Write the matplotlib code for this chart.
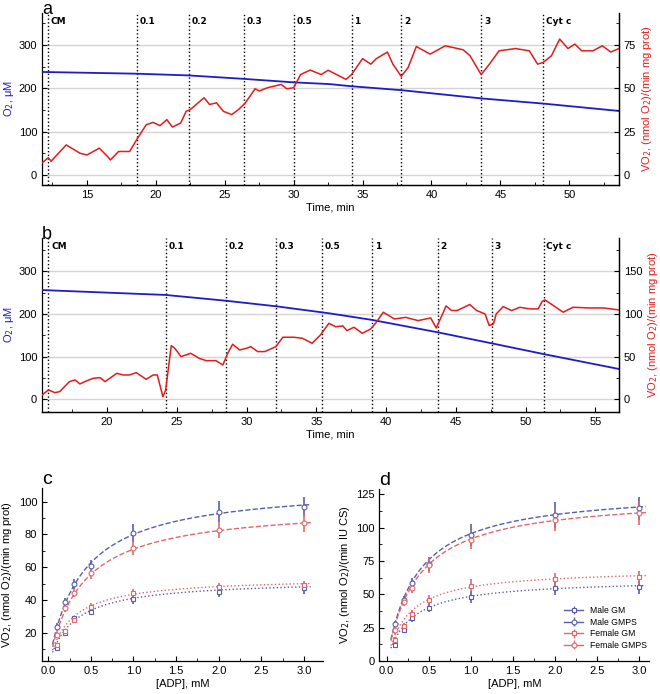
import matplotlib
matplotlib.use('Agg')
import matplotlib.pyplot as plt
import numpy as np
from matplotlib.ticker import MultipleLocator

params = {'font.family': ['Liberation Sans', 'DejaVu Sans'],
          'font.size': 8,
          'xtick.labelsize': 8,
          'ytick.labelsize': 8,
          'xtick.direction': 'in',
          'ytick.direction': 'in',
          'axes.linewidth': 0.9}
plt.rcParams.update(params)

blue = '#1c1ccc'
red = '#e31b1b'
pale_blue = '#5a5ea8'
pale_red = '#e3676a'

events = ['CM', '0.1', '0.2', '0.3', '0.5', '1', '2', '3', 'Cyt c']

# --- panel a: oxygraph trace ---
a_events = [12.17, 18.6, 22.4, 26.4, 30.0, 34.2, 37.8, 43.6, 48.1]
a_t_o2 = [11.74, 18.6, 22.4, 26.4, 30.0, 32.6, 34.2, 37.8, 43.6, 48.1, 53.6]
a_o2 = [238, 234, 230, 222, 214, 210, 205, 196, 177, 165, 148]
a_t_vo2 = [11.74, 12.2, 12.4, 13.5, 14.5, 15.0, 15.9, 16.5, 16.7, 17.3,
           18.1, 18.6, 19.3, 19.8, 20.3, 20.8, 21.2, 21.8, 22.2, 22.5,
           23.5, 23.9, 24.4, 24.9, 25.5, 26.0, 26.5, 27.2, 27.5, 28.1,
           29.1, 29.5, 30.0, 30.5, 31.2, 32.0, 32.5, 33.8, 34.2, 35.0,
           35.6, 36.0, 36.8, 37.2, 37.8, 38.3, 38.9, 39.9, 41.0, 42.3,
           42.8, 43.6, 44.2, 44.9, 46.1, 47.1, 47.7, 48.1, 48.7, 49.3,
           49.9, 50.4, 50.9, 51.7, 52.4, 53.0, 53.6]
a_vo2 = [7, 10, 8, 17.4, 12.6, 11.6, 15.5, 10.7, 8.7, 13.6,
         13.6, 20.3, 29, 30.4, 28.5, 32, 27.7, 30, 36.8, 37.8,
         44.6, 40.7, 41.7, 36.8, 34.9, 37.8, 41.7, 49.8, 48.5, 50.4,
         52.3, 49.8, 50.4, 58, 60.6, 58, 60.5, 55.2, 58, 67.2,
         64, 67.2, 71, 64, 57, 62, 74.2, 69.8, 74.6, 72.3,
         68.8, 58, 64, 71.7, 73, 71.7, 64, 65, 68.8, 78.5,
         73, 75.6, 71.7, 71.7, 74.6, 71, 73]

# --- panel b: oxygraph trace ---
b_events = [15.79, 24.2, 28.5, 32.1, 35.4, 39.0, 43.7, 47.6, 51.3]
b_t_o2 = [15.33, 24.2, 28.5, 32.1, 35.9, 39.0, 43.7, 47.6, 51.3, 56.7]
b_o2 = [256, 244.5, 231, 218, 201.6, 186, 157, 131, 106, 71]
b_t_vo2 = [15.33, 15.79, 16.26, 16.6, 17.3, 17.7, 18.05, 18.4, 19.0, 19.5,
           19.85, 20.7, 21.15, 21.6, 22.1, 22.8, 23.3, 23.6, 24.0, 24.2,
           24.6, 24.85, 25.3, 26.0, 26.6, 27.1, 27.8, 28.3, 28.65, 29.0,
           29.5, 30.0, 30.3, 30.8, 31.3, 32.1, 32.6, 33.4, 34.0, 34.7,
           35.3, 35.9, 36.4, 36.9, 37.2, 37.7, 38.3, 38.9, 39.3, 39.8,
           40.6, 41.4, 42.3, 43.2, 43.6, 44.1, 44.3, 44.7, 45.1, 46.0,
           46.5, 47.1, 47.4, 47.7, 47.9, 48.4, 49.0, 49.6, 50.3, 50.9,
           51.2, 51.4, 52.0, 52.7, 53.4, 54.6, 55.6, 56.7]
b_vo2 = [5, 11, 7.8, 9, 20.7, 22.7, 18, 20.7, 24.6, 25.4,
         20.7, 30.5, 28.5, 28.5, 31.2, 23.4, 28.5, 28.5, 3.1, 11,
         62.9, 59.8, 50, 53.9, 48, 45.3, 45.3, 40.2, 53.9, 64.5,
         57.8, 59.8, 61.7, 55.9, 55.9, 61.7, 72.7, 72.7, 71.5, 65.6,
         75.4, 89, 85, 86, 80.5, 84.4, 77.3, 82.4, 90.2, 102,
         94.1, 96, 92.2, 95.3, 83.6, 101.6, 109.4, 104, 104, 111,
         104, 100, 86.3, 88.3, 100, 108.6, 104, 107.8, 105.9, 105.9,
         114.8, 116.4, 109.8, 102, 107.8, 107, 107, 104.7]

# --- panels c, d: ADP kinetics ---
adp = [0.1, 0.2, 0.3, 0.5, 1.0, 2.0, 3.0]
series = ['Male GM', 'Male GMPS', 'Female GM', 'Female GMPS']

c_male_gm = [10.4, 19.6, 28.8, 32.8, 40.4, 45.0, 47.0]
c_male_gm_err = [1.5, 1.5, 1.5, 1.5, 3, 3, 3.5]
c_male_gmps = [23.7, 38.9, 49.7, 60.9, 80.7, 93.9, 97.0]
c_male_gmps_err = [2, 2, 3, 3.5, 5.5, 6.5, 6]
c_female_gm = [12.5, 21.0, 27.7, 35.9, 44.0, 47.7, 49.1]
c_female_gm_err = [1.5, 1.5, 2, 2.5, 2.5, 2.5, 2.5]
c_female_gmps = [18.6, 34.9, 44.0, 56.2, 71.5, 82.7, 86.8]
c_female_gmps_err = [2, 2, 2.5, 3.5, 4, 5, 5.5]
c_vmax = [52.5, 110.4, 54.0, 98.0]
c_km = [0.28, 0.38, 0.242, 0.38]

d_male_gm = [12, 23.25, 32, 39.5, 48.25, 54.5, 55.25]
d_male_gm_err = [2, 2, 2.5, 3, 4.5, 5, 5]
d_male_gmps = [27.75, 45.75, 58.25, 72.75, 94.5, 109.5, 114.5]
d_male_gmps_err = [2.5, 3, 4, 5.5, 8, 9.5, 8.5]
d_female_gm = [15.75, 26.25, 35.25, 45.75, 56.5, 61.25, 62.75]
d_female_gm_err = [2, 2, 3, 4, 5, 5, 5]
d_female_gmps = [23, 44.5, 54.5, 72, 90.75, 105.75, 110.75]
d_female_gmps_err = [2.5, 3, 3.5, 6, 7, 8.5, 9]
d_vmax = [61.6, 129.0, 69.3, 124.3]
d_km = [0.27, 0.35, 0.249, 0.358]

fig = plt.figure(figsize=(6.6, 6.94), dpi=100)


def trace_panel(rect, letter, t_o2, o2, t_vo2, vo2, ev_t, xlim, ylim, ratio,
                xmajor, rmajor):
    ax = fig.add_axes(rect)
    ax2 = ax.twinx()
    ax.yaxis.grid(True, color='#d4d4d4', lw=1)
    ax.set_axisbelow(True)
    ax.plot(t_o2, o2, color=blue, lw=1.3, zorder=3)
    ax2.plot(t_vo2, vo2, color=red, lw=1.1)
    for t, lab in zip(ev_t, events):
        ax.axvline(t, color='k', ls=':', lw=1)
        ax.annotate(lab, xy=(t, 1), xycoords=('data', 'axes fraction'),
                    xytext=(2, -3), textcoords='offset points',
                    fontsize=6.5, fontweight='bold', va='top', ha='left',
                    family='DejaVu Sans')
    ax.set_xlim(xlim)
    ax.set_ylim(ylim)
    ax2.set_ylim(ylim[0] / ratio, ylim[1] / ratio)
    ax.xaxis.set_major_locator(MultipleLocator(xmajor))
    ax.xaxis.set_minor_locator(MultipleLocator(xmajor / 2))
    ax.yaxis.set_major_locator(MultipleLocator(100))
    ax.yaxis.set_minor_locator(MultipleLocator(50))
    ax2.yaxis.set_major_locator(MultipleLocator(rmajor))
    ax2.yaxis.set_minor_locator(MultipleLocator(rmajor / 2))
    ax.tick_params(which='both', top=False, right=False)
    ax.spines['top'].set_visible(False)
    ax2.spines['top'].set_visible(False)
    ax2.spines['left'].set_visible(False)
    ax.set_ylabel('O$_2$, μM', color=blue, labelpad=2)
    ax2.set_ylabel('VO$_2$, (nmol O$_2$)/(min mg prot)', color=red, labelpad=3)
    ax.annotate(letter, xy=(0, 1), xycoords='axes fraction',
                xytext=(0, -1), textcoords='offset points',
                fontsize=13, va='baseline', ha='left')
    return ax


ax_a = trace_panel([0.0636, 0.7334, 0.8742, 0.2478], 'a', a_t_o2, a_o2,
                   a_t_vo2, a_vo2, a_events, (11.74, 53.6), (-23, 374), 4, 5, 25)
ax_a.set_xlabel('Time, min', labelpad=2)

ax_b = trace_panel([0.0636, 0.4068, 0.8742, 0.2503], 'b', b_t_o2, b_o2,
                   b_t_vo2, b_vo2, b_events, (15.33, 56.7), (-29, 378), 2, 5, 50)
ax_b.set_xlabel('Time, min', labelpad=2)

x_fit = np.linspace(0.05, 3.08, 200)
styles = [(pale_blue, 's', ':'), (pale_blue, 'o', '--'),
          (pale_red, 's', ':'), (pale_red, 'o', '--')]


def kinetics_panel(rect, letter, values, errs, vmax, km, ylim, ymajor, ylabel):
    ax = fig.add_axes(rect)
    for v, e, vm, k, (col, mk, ls) in zip(values, errs, vmax, km, styles):
        ax.plot(x_fit, vm * x_fit / (k + x_fit), color=col, ls=ls, lw=1)
        ax.errorbar(adp, v, yerr=e, fmt=mk, ms=3.5, mfc='white', mec=col,
                    mew=0.8, ecolor=col, elinewidth=1.2, capsize=0, zorder=3)
    ax.set_ylim(ylim)
    ax.xaxis.set_major_locator(MultipleLocator(0.5))
    ax.xaxis.set_minor_locator(MultipleLocator(0.25))
    ax.yaxis.set_major_locator(MultipleLocator(ymajor))
    ax.yaxis.set_minor_locator(MultipleLocator(ymajor / 2))
    ax.xaxis.set_major_formatter(matplotlib.ticker.FormatStrFormatter('%.1f'))
    ax.spines['top'].set_visible(False)
    ax.spines['right'].set_visible(False)
    ax.set_xlabel('[ADP], mM', labelpad=2)
    ax.set_ylabel(ylabel, labelpad=3)
    ax.text(0.0, 1.0, letter, transform=ax.transAxes, fontsize=14,
            va='bottom', ha='left')
    return ax


ax_c = kinetics_panel([0.0636, 0.04755, 0.4253, 0.2493], 'c',
                      [c_male_gm, c_male_gmps, c_female_gm, c_female_gmps],
                      [c_male_gm_err, c_male_gmps_err, c_female_gm_err, c_female_gmps_err],
                      c_vmax, c_km, (2.7, 108.4), 20,
                      'VO$_2$, (nmol O$_2$)/(min mg prot)')
ax_c.set_xlim(-0.074, 3.22)

ax_d = kinetics_panel([0.5747, 0.04755, 0.409, 0.2478], 'd',
                      [d_male_gm, d_male_gmps, d_female_gm, d_female_gmps],
                      [d_male_gm_err, d_male_gmps_err, d_female_gm_err, d_female_gmps_err],
                      d_vmax, d_km, (0, 129), 25,
                      'VO$_2$, (nmol O$_2$)/(min IU CS)')
ax_d.set_xlim(-0.088, 3.12)

handles = []
for col, mk, ls in styles:
    h = ax_d.errorbar([np.nan], [np.nan], yerr=[np.nan], fmt='-' + mk, ms=3.5,
                      mfc='white', mec=col, color=col, lw=1, mew=0.8,
                      elinewidth=1, capsize=0)
    handles.append(h)
ax_d.legend(handles, series, loc='lower right', bbox_to_anchor=(1.02, 0.02),
            frameon=False, fontsize=6.2, handlelength=2.2, labelspacing=0.3)

plt.savefig('out.png', dpi=100)
